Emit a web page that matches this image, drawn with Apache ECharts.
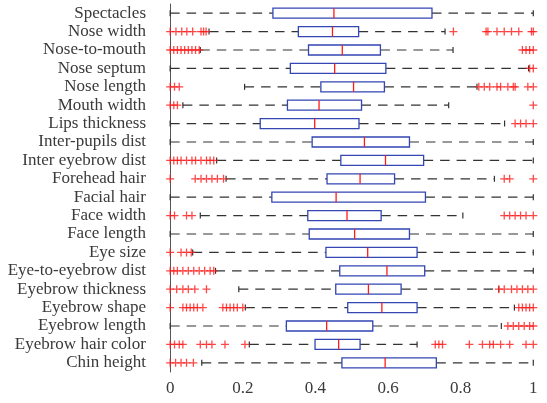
<!DOCTYPE html>
<html lang="en">
<head>
    <meta charset="UTF-8">
    <title>Boxplot</title>
    <script src="https://cdn.jsdelivr.net/npm/echarts@6/dist/echarts.min.js" charset="utf-8"></script>
    <style>
        html, body {margin: 0; padding: 0; background: #fff;}
        #main {width: 547px; height: 403px;}
    </style>
</head>
<body>
<div id="main"></div>
<script>
    // categories, top to bottom
    var categories = ['Spectacles', 'Nose width', 'Nose-to-mouth', 'Nose septum', 'Nose length', 'Mouth width',
        'Lips thickness', 'Inter-pupils dist', 'Inter eyebrow dist', 'Forehead hair', 'Facial hair', 'Face width',
        'Face length', 'Eye size', 'Eye-to-eyebrow dist', 'Eyebrow thickness', 'Eyebrow shape', 'Eyebrow length',
        'Eyebrow hair color', 'Chin height'];

    var whiskerLow = [0, 0.107, 0.083, 0, 0.205, 0.035, 0, 0, 0.128, 0.154, 0, 0.083, 0, 0.062, 0.125, 0.189, 0.207, 0, 0.218, 0.087];
    var q1 = [0.283, 0.353, 0.381, 0.331, 0.415, 0.323, 0.248, 0.391, 0.47, 0.432, 0.28, 0.379, 0.383, 0.429, 0.467, 0.456, 0.489, 0.32, 0.399, 0.473];
    var median = [0.451, 0.447, 0.474, 0.453, 0.505, 0.41, 0.398, 0.535, 0.593, 0.523, 0.457, 0.487, 0.508, 0.544, 0.597, 0.546, 0.583, 0.431, 0.464, 0.592];
    var q3 = [0.721, 0.519, 0.579, 0.594, 0.59, 0.527, 0.52, 0.659, 0.698, 0.618, 0.703, 0.581, 0.659, 0.68, 0.701, 0.636, 0.68, 0.558, 0.523, 0.733];
    var whiskerHigh = [1, 0.757, 0.779, 0.987, 0.845, 0.767, 0.921, 1, 1, 0.893, 1, 0.806, 1, 1, 1, 0.905, 0.948, 0.912, 0.68, 1];

    var outliers = [
        [],
        [0, 0.016, 0.032, 0.046, 0.062, 0.085, 0.092, 0.099, 0.78, 0.87, 0.875, 0.9, 0.92, 0.94, 0.96, 0.995, 1],
        [0, 0.01, 0.02, 0.03, 0.04, 0.05, 0.06, 0.07, 0.08, 0.97, 0.98, 0.99, 1],
        [0.99, 1],
        [0, 0.012, 0.025, 0.85, 0.865, 0.88, 0.9, 0.91, 0.93, 0.945, 0.95, 0.985, 1],
        [0, 0.01, 0.02, 1],
        [0.95, 0.965, 0.98, 1],
        [],
        [0, 0.01, 0.02, 0.03, 0.045, 0.06, 0.07, 0.085, 0.1, 0.11, 0.12],
        [0, 0.069, 0.085, 0.1, 0.115, 0.13, 0.147, 0.92, 0.935, 1],
        [],
        [0, 0.012, 0.045, 0.06, 0.92, 0.935, 0.95, 0.965, 0.98, 1],
        [],
        [0, 0.03, 0.045, 0.058],
        [0, 0.01, 0.02, 0.035, 0.05, 0.065, 0.08, 0.095, 0.11, 0.12],
        [0, 0.018, 0.035, 0.05, 0.068, 0.1, 0.905, 0.92, 0.94, 0.955, 0.97, 0.985, 1],
        [0, 0.035, 0.045, 0.055, 0.065, 0.075, 0.09, 0.145, 0.155, 0.165, 0.175, 0.185, 0.2, 0.96, 0.97, 0.98, 0.99, 1],
        [0.93, 0.945, 0.96, 0.975, 0.99, 1],
        [0, 0.012, 0.025, 0.035, 0.083, 0.1, 0.115, 0.151, 0.206, 0.73, 0.74, 0.75, 0.824, 0.86, 0.88, 0.89, 0.91, 0.935, 0.98, 1],
        [0, 0.015, 0.03, 0.045, 0.064]
    ];

    var xTicks = [0, 0.2, 0.4, 0.6, 0.8, 1];

    var boxData = [], outlierData = [];
    for (var i = 0; i < categories.length; i++) {
        boxData.push([i, whiskerLow[i], q1[i], median[i], q3[i], whiskerHigh[i]]);
        for (var j = 0; j < outliers[i].length; j++) {
            outlierData.push([outliers[i][j], i]);
        }
    }

    var font = '"Liberation Serif", "Times New Roman", serif';
    var dash = {stroke: '#333', lineWidth: 1.2, lineDash: [9.5, 7]};
    var solid = {stroke: '#333', lineWidth: 1.2};

    function renderBox(params, api) {
        var cat = api.value(0);
        var lo = api.coord([api.value(1), cat]);
        var b1 = api.coord([api.value(2), cat]);
        var md = api.coord([api.value(3), cat]);
        var b3 = api.coord([api.value(4), cat]);
        var hi = api.coord([api.value(5), cat]);
        var y = lo[1], h = 5, c = 3;
        return {
            type: 'group',
            children: [
                {type: 'line', shape: {x1: lo[0], y1: y, x2: b1[0], y2: y}, style: dash},
                {type: 'line', shape: {x1: b3[0], y1: y, x2: hi[0], y2: y}, style: dash},
                {type: 'line', shape: {x1: lo[0], y1: y - c, x2: lo[0], y2: y + c}, style: solid},
                {type: 'line', shape: {x1: hi[0], y1: y - c, x2: hi[0], y2: y + c}, style: solid},
                {type: 'rect', shape: {x: b1[0], y: y - h, width: b3[0] - b1[0], height: 2 * h},
                    style: {fill: '#fff', stroke: '#3346b4', lineWidth: 1.3}},
                {type: 'line', shape: {x1: md[0], y1: y - h, x2: md[0], y2: y + h},
                    style: {stroke: '#ff1a1a', lineWidth: 1.3}}
            ]
        };
    }

    var myChart = echarts.init(document.getElementById('main'));
    var option = {
        animation: false,
        grid: {left: 152, right: 1, top: 4, bottom: 31},
        xAxis: {
            type: 'value',
            min: -0.05,
            max: 1.035,
            splitLine: {show: false},
            axisLine: {lineStyle: {color: '#555', width: 1}},
            axisTick: {inside: true, length: 5, customValues: xTicks, lineStyle: {color: '#555'}},
            axisLabel: {
                customValues: xTicks,
                margin: 8,
                fontFamily: font,
                fontSize: 17,
                color: '#3a3a3a',
                formatter: function (v) { return String(v); }
            }
        },
        yAxis: {
            type: 'category',
            data: categories,
            inverse: true,
            axisLine: {lineStyle: {color: '#555', width: 1}},
            axisTick: {inside: true, length: 4, interval: 0, alignWithLabel: true, lineStyle: {color: '#555'}},
            axisLabel: {interval: 0, margin: 6, fontFamily: font, fontSize: 17, color: '#3a3a3a'}
        },
        series: [{
            type: 'custom',
            renderItem: renderBox,
            encode: {x: [1, 2, 3, 4, 5], y: 0},
            data: boxData,
            z: 2
        }, {
            type: 'scatter',
            symbol: 'path://M5 0 L5 10 M0 5 L10 5',
            symbolSize: 8,
            itemStyle: {color: 'none', borderColor: '#ff1a1a', borderWidth: 1.3},
            data: outlierData,
            z: 3
        }]
    };
    myChart.setOption(option);
    window.addEventListener('resize', function () {
        myChart.resize();
    });
</script>
</body>
</html>
